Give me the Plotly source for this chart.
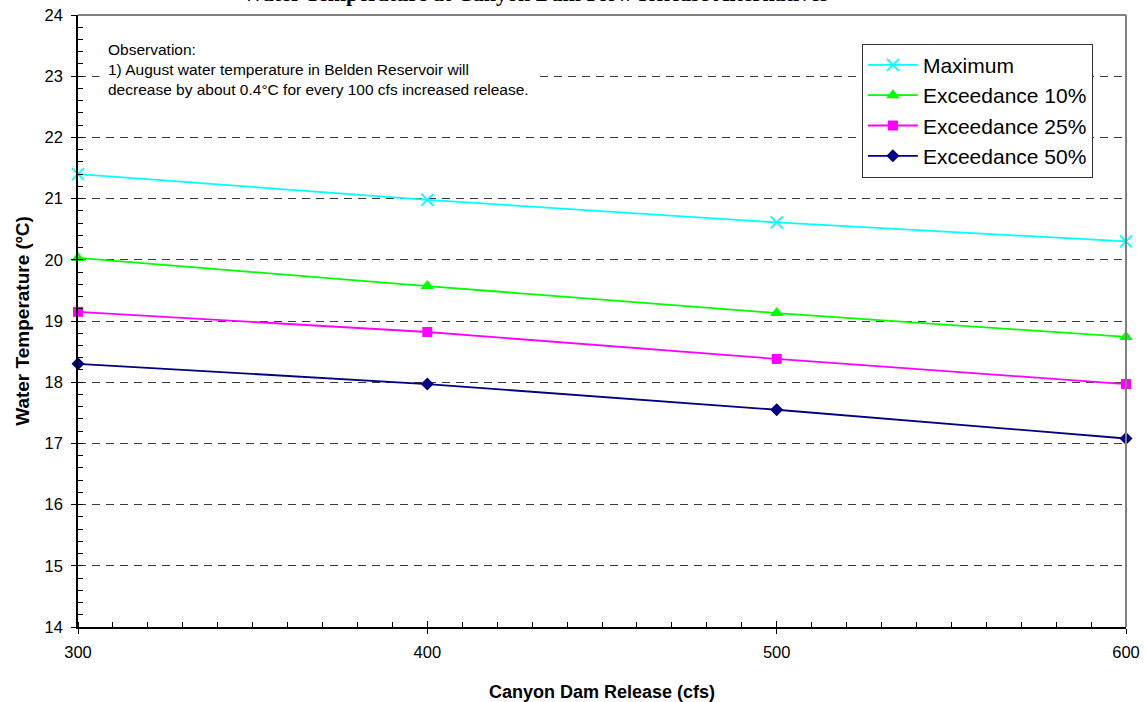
import plotly.graph_objects as go

releases = [300, 400, 500, 600]
series_names = ["Maximum", "Exceedance 10%", "Exceedance 25%", "Exceedance 50%"]
maximum = [21.40, 20.98, 20.61, 20.30]
exc10 = [20.03, 19.57, 19.13, 18.74]
exc25 = [19.15, 18.82, 18.38, 17.97]
exc50 = [18.30, 17.97, 17.55, 17.08]

colors = ["#00FFFF", "#00FF00", "#FF00FF", "#000080"]
symbols = ["x-thin", "triangle-up", "square", "diamond"]
sizes = [12, 12, 10, 10]
values = [maximum, exc10, exc25, exc50]

fig = go.Figure()
for i, (name, vals) in enumerate(zip(series_names, values)):
    marker = dict(symbol=symbols[i], size=sizes[i], color=colors[i])
    if symbols[i] == "x-thin":
        marker["line"] = dict(color=colors[i], width=1.8)
    fig.add_trace(go.Scatter(
        x=releases, y=vals, name=name, mode="lines+markers",
        line=dict(color=colors[i], width=1.8), marker=marker,
        legendgroup=f"g{i}", cliponaxis=False,
    ))

# invisible trace to drive inside-major-tick overlay axes
fig.add_trace(go.Scatter(x=releases, y=maximum, xaxis="x2", yaxis="y2",
                         mode="markers", marker=dict(opacity=0), showlegend=False,
                         hoverinfo="skip"))

font = "Arial, Liberation Sans, sans-serif"
fig.update_layout(
    width=1147, height=702,
    margin=dict(l=78, r=21, t=15, b=75, autoexpand=False),
    paper_bgcolor="white", plot_bgcolor="white",
    font=dict(family=font, color="black"),
    showlegend=True,
    legend=dict(
        x=0.748, y=0.953, xanchor="left", yanchor="top",
        bgcolor="white", bordercolor="#333333", borderwidth=1,
        font=dict(size=21, family=font), traceorder="grouped",
        tracegroupgap=0, itemwidth=50,
    ),
    xaxis=dict(
        range=[300, 600], tickvals=[300, 400, 500, 600],
        ticks="outside", ticklen=5, tickcolor="black", tickwidth=1,
        minor=dict(ticks="inside", dtick=10, ticklen=5, tickcolor="black", tickwidth=1),
        showline=True, linecolor="black", linewidth=1.5,
        showgrid=False, zeroline=False, automargin=False,
        tickfont=dict(size=16.5, family=font), ticklabelstandoff=4,
        title=dict(text="<b>Canyon Dam Release (cfs)</b>", font=dict(size=18, family=font), standoff=28),
    ),
    yaxis=dict(
        range=[14, 24], dtick=1, tick0=14,
        ticks="outside", ticklen=5, tickcolor="black", tickwidth=1,
        minor=dict(ticks="inside", dtick=0.2, ticklen=5, tickcolor="black", tickwidth=1),
        showline=True, linecolor="black", linewidth=1.5,
        showgrid=True, gridcolor="#3a3a3a", gridwidth=1, griddash="8px,6px",
        zeroline=False, automargin=False,
        tickfont=dict(size=16.5, family=font), ticklabelstandoff=5,
        title=dict(text="<b>Water Temperature (ºC)</b>", font=dict(size=19, family=font), standoff=10),
    ),
    xaxis2=dict(overlaying="x", matches="x", side="bottom", showticklabels=False,
                ticks="inside", ticklen=6, tickcolor="black", automargin=False,
                tickvals=[300, 400, 500, 600], showgrid=False, zeroline=False,
                range=[300, 600]),
    yaxis2=dict(overlaying="y", matches="y", side="left", showticklabels=False,
                ticks="inside", ticklen=5, tickcolor="black", automargin=False,
                dtick=1, tick0=14, showgrid=False, zeroline=False, range=[14, 24]),
)

# plot frame (top & right in gray)
fig.add_shape(type="line", xref="paper", yref="paper", x0=0, x1=1, y0=1, y1=1,
              line=dict(color="#808080", width=2))
fig.add_shape(type="line", xref="paper", yref="paper", x0=1, x1=1, y0=0, y1=1,
              line=dict(color="#808080", width=2))

# mostly cropped title at the top
fig.add_annotation(
    text="<b>Water Temperature at Canyon Dam Flow Release Alternatives</b>",
    xref="paper", yref="paper", x=0.437, y=1, yanchor="bottom", yshift=7,
    showarrow=False, font=dict(size=22, family="Liberation Serif, Times New Roman, serif"),
)

fig.add_annotation(
    text="Observation:<br>1) August water temperature in Belden Reservoir will<br>"
         "decrease by about 0.4°C for every 100 cfs increased release.",
    xref="paper", yref="paper", x=0.020, y=0.972, xanchor="left", yanchor="top",
    align="left", showarrow=False, bgcolor="white", borderpad=8,
    font=dict(size=15.5, family=font),
)

fig.write_html("out.html", config={"displayModeBar": False},
               post_script="document.body.style.margin='0';")
